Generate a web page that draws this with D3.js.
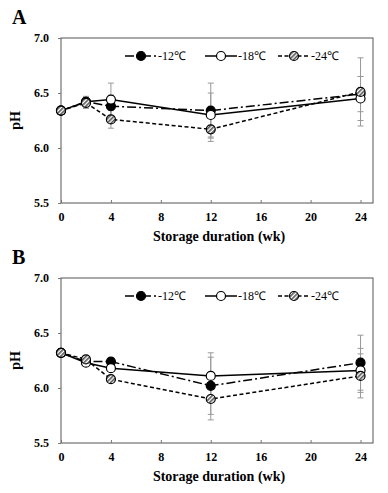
<!DOCTYPE html>
<html><head><meta charset="utf-8">
<script src="https://cdn.jsdelivr.net/npm/d3@7"></script>
<style>body{margin:0;background:#fff}svg{display:block}</style>
</head><body>
<svg id="c" width="388" height="493"></svg>
<script>
const weeks = [0, 2, 4, 12, 24];
const seriesNames = ["-12℃", "-18℃", "-24℃"];
const yTicks = [5.5, 6.0, 6.5, 7.0];
const xTicks = [0, 4, 8, 12, 16, 20, 24];
// Panel A
const A_m12 = [6.34, 6.42, 6.38, 6.34, 6.49];
const A_m18 = [6.34, 6.42, 6.44, 6.30, 6.45];
const A_m24 = [6.34, 6.41, 6.26, 6.17, 6.51];
const A_e12 = [0.02, 0.05, 0.10, 0.25, 0.16];
const A_e18 = [0.02, 0.04, 0.15, 0.20, 0.20];
const A_e24 = [0.02, 0.05, 0.08, 0.11, 0.31];
// Panel B
const B_m12 = [6.32, 6.24, 6.24, 6.02, 6.23];
const B_m18 = [6.32, 6.23, 6.18, 6.11, 6.16];
const B_m24 = [6.32, 6.26, 6.08, 5.90, 6.11];
const B_e12 = [0.03, 0.03, 0.03, 0.26, 0.25];
const B_e18 = [0.03, 0.03, 0.03, 0.21, 0.20];
const B_e24 = [0.03, 0.03, 0.03, 0.19, 0.20];

const svg = d3.select("#c");
const defs = svg.append("defs");
const pat = defs.append("pattern").attr("id","hatch").attr("patternUnits","userSpaceOnUse")
  .attr("width",3).attr("height",3).attr("patternTransform","rotate(45)");
pat.append("rect").attr("width",3).attr("height",3).attr("fill","#fff");
pat.append("rect").attr("width",1.6).attr("height",3).attr("fill","#555");

const styles = [
  {dash:"9,3,2,3", fill:"#000"},
  {dash:null, fill:"#fff"},
  {dash:"4,2.5", fill:"url(#hatch)"}
];

function panel(letter, top, means, errs) {
  const left = 61, right = 373, t = top, b = top + 165;
  const x = d3.scaleLinear().domain([0, 25]).range([left, right]);
  const y = d3.scaleLinear().domain([5.5, 7.0]).range([b, t]);
  const g = svg.append("g");
  g.append("text").attr("x", 12).attr("y", t - 14).text(letter)
    .attr("font-family","Liberation Serif").attr("font-weight","bold").attr("font-size",20);
  g.append("rect").attr("x",left).attr("y",t).attr("width",right-left).attr("height",b-t)
    .attr("fill","none").attr("stroke","#555").attr("stroke-width",1);
  const ya = g.append("g").attr("transform",`translate(${left},0)`)
    .call(d3.axisLeft(y).tickValues(yTicks).tickFormat(d3.format(".1f")).tickSize(3).tickPadding(9));
  const xa = g.append("g").attr("transform",`translate(0,${b})`)
    .call(d3.axisBottom(x).tickValues(xTicks).tickSize(-3).tickPadding(9));
  [ya, xa].forEach(a => {
    a.select(".domain").remove();
    a.selectAll("line").attr("stroke","#777");
    a.selectAll("text").attr("font-family","Liberation Serif").attr("font-weight","bold")
      .attr("font-size",12).attr("fill","#000");
  });
  g.append("text").attr("x",(left+right)/2 + 2).attr("y", b + 38).attr("text-anchor","middle")
    .attr("font-family","Liberation Serif").attr("font-weight","bold").attr("font-size",14)
    .text("Storage duration (wk)");
  g.append("text").attr("transform",`translate(20,${(t+b)/2}) rotate(-90)`).attr("text-anchor","middle")
    .attr("font-family","Liberation Serif").attr("font-weight","bold").attr("font-size",14).text("pH");

  // error bars
  means.forEach((m, si) => {
    m.forEach((v, i) => {
      const e = errs[si][i], cx = x(weeks[i]);
      g.append("line").attr("x1",cx).attr("x2",cx).attr("y1",y(v-e)).attr("y2",y(v+e))
        .attr("stroke","#999").attr("stroke-width",1);
      [v-e, v+e].forEach(yy => g.append("line").attr("x1",cx-3).attr("x2",cx+3)
        .attr("y1",y(yy)).attr("y2",y(yy)).attr("stroke","#999").attr("stroke-width",1));
    });
  });
  const line = d3.line().x((d,i)=>x(weeks[i])).y(d=>y(d));
  [0,1,2].forEach(si => {
    g.append("path").datum(means[si]).attr("d",line).attr("fill","none")
      .attr("stroke","#000").attr("stroke-width",1.5)
      .attr("stroke-dasharray", styles[si].dash);
  });
  [0,1,2].forEach(si => {
    g.selectAll(null).data(means[si]).enter().append("circle")
      .attr("cx",(d,i)=>x(weeks[i])).attr("cy",d=>y(d)).attr("r",4.5)
      .attr("fill",styles[si].fill).attr("stroke","#000").attr("stroke-width",1.2);
  });
  // legend
  const ly = t + 18;
  const lx = [125, 205, 278];
  seriesNames.forEach((n, si) => {
    const x0 = lx[si];
    g.append("line").attr("x1",x0).attr("x2",x0+32).attr("y1",ly).attr("y2",ly)
      .attr("stroke","#000").attr("stroke-width",1.5).attr("stroke-dasharray",styles[si].dash);
    g.append("circle").attr("cx",x0+16).attr("cy",ly).attr("r",4.5)
      .attr("fill",styles[si].fill).attr("stroke","#000").attr("stroke-width",1.2);
    g.append("text").attr("x",x0+33).attr("y",ly+4).text(n)
      .attr("font-family","Liberation Serif").attr("font-size",12);
  });
}
panel("A", 38, [A_m12, A_m18, A_m24], [A_e12, A_e18, A_e24]);
panel("B", 278, [B_m12, B_m18, B_m24], [B_e12, B_e18, B_e24]);
</script>
</body></html>
